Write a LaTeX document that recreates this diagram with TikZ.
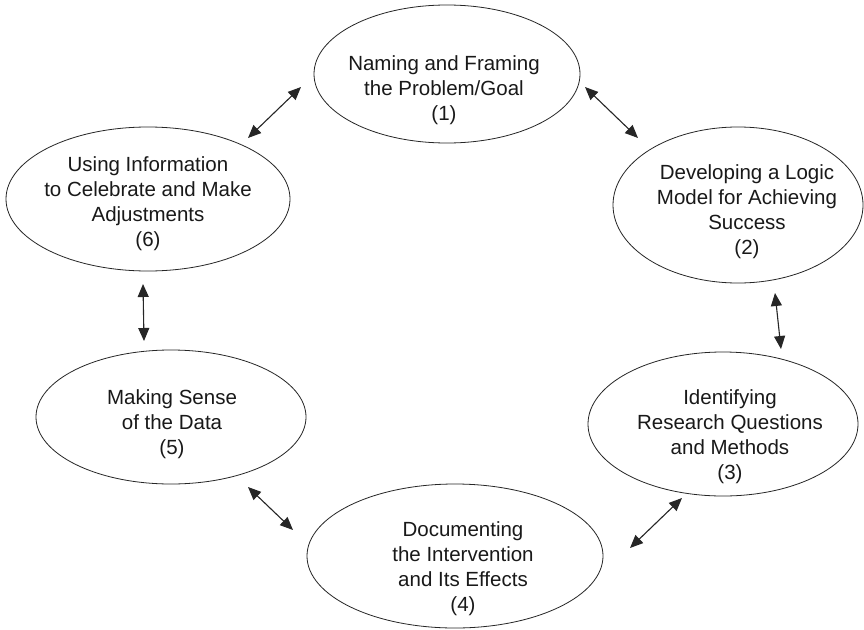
\documentclass[tikz,border=0pt]{standalone}
\usepackage{fontspec}
\setmainfont{Liberation Sans}
\usetikzlibrary{shapes.geometric,arrows.meta}
\begin{document}
\begin{tikzpicture}[x=1pt,y=-1pt,
  oval/.style={ellipse, draw=black!85, line width=0.8pt, inner sep=0pt},
  lbl/.style={align=center, inner sep=0pt, font=\fontsize{20.5}{25}\selectfont, text=black!90},
  biarrow/.style={line width=1.1pt, draw=black!85, {Triangle[length=13pt,width=11pt]}-{Triangle[length=13pt,width=11pt]}}]
\useasboundingbox (0,0) rectangle (864,629);
\fill[white] (0,0) rectangle (864,629);
% ellipses
\node[oval, minimum width=266pt, minimum height=138pt] (e1) at (447,74) {};
\node[oval, minimum width=250pt, minimum height=156pt] (e2) at (738,205) {};
\node[oval, minimum width=270pt, minimum height=144pt] (e3) at (723,424) {};
\node[oval, minimum width=296pt, minimum height=144pt] (e4) at (455,556) {};
\node[oval, minimum width=270pt, minimum height=134pt] (e5) at (171,417) {};
\node[oval, minimum width=284pt, minimum height=144pt] (e6) at (148,199) {};
% texts
\node[lbl] (t1) at (444,90) {Naming and Framing\\the Problem/Goal\\(1)};
\node[lbl] (t2) at (747,212) {Developing a Logic\\Model for Achieving\\Success\\(2)};
\node[lbl] (t3) at (730,437) {Identifying\\Research Questions\\and Methods\\(3)};
\node[lbl] (t4) at (463,569) {Documenting\\the Intervention\\and Its Effects\\(4)};
\node[lbl] (t5) at (172,424) {Making Sense\\of the Data\\(5)};
\node[lbl] (t6) at (148,204) {Using Information\\to Celebrate and Make\\Adjustments\\(6)};
% arrow ends
\coordinate (a16) at (301,87);
\coordinate (a61) at (248,138);
\coordinate (a12) at (585,87);
\coordinate (a21) at (638,138);
\coordinate (a23) at (775,293);
\coordinate (a32) at (781,349);
\coordinate (a34) at (682,498);
\coordinate (a43) at (630,548);
\coordinate (a45) at (293,530);
\coordinate (a54) at (248,487);
\coordinate (a56) at (144,341);
\coordinate (a65) at (143,284);
% arrows
\draw[biarrow] (a16) -- (a61);
\draw[biarrow] (a12) -- (a21);
\draw[biarrow] (a23) -- (a32);
\draw[biarrow] (a34) -- (a43);
\draw[biarrow] (a45) -- (a54);
\draw[biarrow] (a56) -- (a65);
\end{tikzpicture}
\end{document}
